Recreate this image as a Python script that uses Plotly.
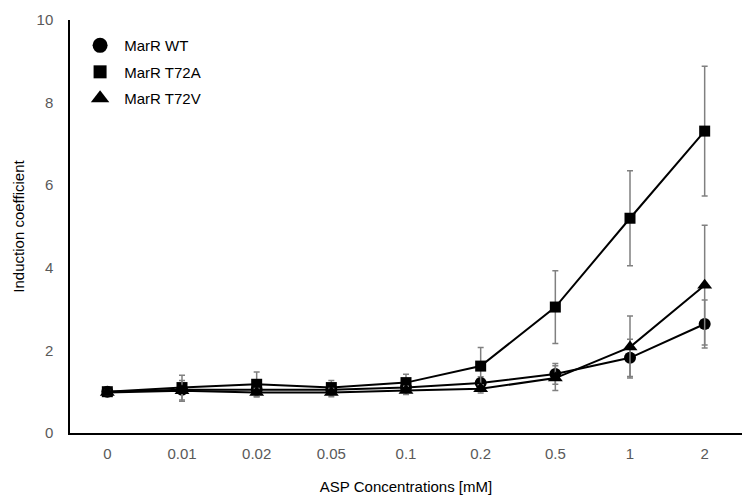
import plotly.graph_objects as go

conc = ["0", "0.01", "0.02", "0.05", "0.1", "0.2", "0.5", "1", "2"]
wt = [1.0, 1.05, 1.05, 1.05, 1.1, 1.21, 1.43, 1.82, 2.64]
wt_err = [0.05, 0.1, 0.1, 0.1, 0.1, 0.15, 0.25, 0.45, 0.58]
t72a = [1.0, 1.1, 1.18, 1.1, 1.22, 1.62, 3.05, 5.2, 7.31]
t72a_err = [0.05, 0.3, 0.3, 0.17, 0.2, 0.45, 0.88, 1.15, 1.57]
t72v = [0.98, 1.02, 0.98, 0.98, 1.03, 1.07, 1.33, 2.08, 3.58]
t72v_err = [0.05, 0.25, 0.1, 0.1, 0.1, 0.1, 0.3, 0.75, 1.45]

series = [
    ("MarR WT", wt, wt_err, "circle", 12, 15),
    ("MarR T72A", t72a, t72a_err, "square", 11, 13),
    ("MarR T72V", t72v, t72v_err, "triangle-up", 13, 16),
]

fig = go.Figure()
for name, y, err, sym, size, lsize in series:
    fig.add_trace(go.Scatter(
        x=conc, y=y, name=name, mode="lines+markers", showlegend=False,
        line=dict(color="black", width=2),
        marker=dict(symbol=sym, size=size, color="black"),
        error_y=dict(type="data", array=err, color="#808080", thickness=1.5, width=3),
    ))
    fig.add_trace(go.Scatter(
        x=[None], y=[None], name=" " + name, mode="markers", legendgroup=name,
        marker=dict(symbol=sym, size=lsize, color="black"),
    ))

font = "Liberation Sans, Arial, sans-serif"
fs = 15
fig.update_layout(
    width=742, height=500,
    margin=dict(l=70, r=0, t=20, b=67),
    paper_bgcolor="white", plot_bgcolor="white",
    font=dict(family=font, size=fs, color="#595959"),
    legend=dict(x=0.015, y=0.978, xanchor="left", yanchor="top",
                font=dict(size=fs, color="black"), bgcolor="rgba(0,0,0,0)",
                itemsizing="trace", tracegroupgap=4),
    xaxis=dict(type="category", range=[-0.5, 8.5], showline=True, linecolor="black",
               linewidth=1.5, showgrid=False, ticks="", ticklen=0, ticklabelstandoff=6,
               title=dict(text="ASP Concentrations [mM]", font=dict(size=fs, color="black"), standoff=21),
               tickfont=dict(size=fs, color="#595959")),
    yaxis=dict(range=[0, 10], dtick=2, showline=True, linecolor="black", linewidth=1.5,
               showgrid=False, ticks="", zeroline=False, ticklabelstandoff=12,
               title=dict(text="Induction coefficient", font=dict(size=fs, color="black"), standoff=8),
               tickfont=dict(size=fs, color="#595959")),
)
fig.write_html("out.html")
